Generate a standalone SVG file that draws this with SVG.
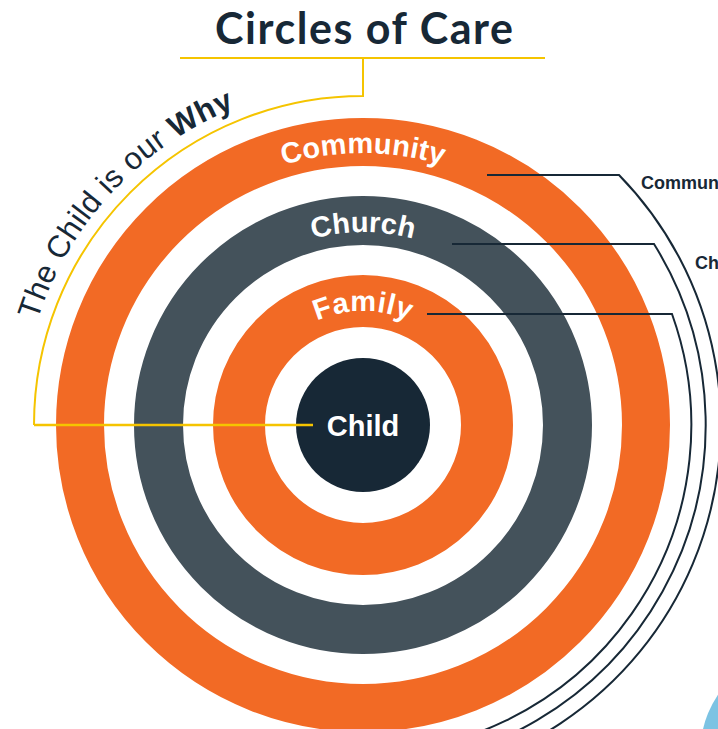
<svg xmlns="http://www.w3.org/2000/svg" xmlns:xlink="http://www.w3.org/1999/xlink" width="718" height="729" viewBox="0 0 718 729">
  <style>
    .ring { fill: none; }
    .ringlabel { font-family: "Liberation Sans", Arial, sans-serif; font-weight: 700; font-size: 29px; fill: #ffffff; }
    .title { font-family: Lato, "Liberation Sans", sans-serif; font-weight: 700; font-size: 43px; fill: #172836; }
    .tagline { font-family: "Liberation Sans", Arial, sans-serif; font-size: 31px; fill: #172836; letter-spacing: 0.4px; }
    .side { font-family: "Liberation Sans", Arial, sans-serif; font-weight: 700; font-size: 18px; fill: #172836; }
    .conn { fill: none; stroke: #172836; stroke-width: 2; }
    .gold { fill: none; stroke: #F5C400; }
  </style>
  <defs>
    <path id="arcCommunity" d="M 91 425 A 272 272 0 0 1 635 425"/>
    <path id="arcChurch" d="M 170 425 A 193 193 0 0 1 556 425"/>
    <path id="arcFamily" d="M 249 425 A 114 114 0 0 1 477 425"/>
    <path id="arcTag" d="M 21 425 A 342 342 0 0 1 705 425"/>
  </defs>
  <rect x="0" y="0" width="718" height="729" fill="#ffffff"/>

  <g id="blue-circle">
    <circle cx="802" cy="752" r="101.6" fill="#7CC3E3"/>
  </g>

  <g id="title">
    <text class="title" x="364" y="44" text-anchor="middle" textLength="298" lengthAdjust="spacing">Circles of Care</text>
  </g>

  <g id="ring-community">
    <circle class="ring" cx="363" cy="425" r="283" stroke="#F26A25" stroke-width="48"/>
    <text class="ringlabel" letter-spacing="0.2"><textPath xlink:href="#arcCommunity" href="#arcCommunity" startOffset="50%" text-anchor="middle">Community</textPath></text>
  </g>

  <g id="ring-church">
    <circle class="ring" cx="363" cy="425" r="204.5" stroke="#44525B" stroke-width="49"/>
    <text class="ringlabel"><textPath xlink:href="#arcChurch" href="#arcChurch" startOffset="50%" text-anchor="middle">Church</textPath></text>
  </g>

  <g id="ring-family">
    <circle class="ring" cx="363" cy="425" r="124" stroke="#F26A25" stroke-width="52"/>
    <text class="ringlabel" letter-spacing="0.5"><textPath xlink:href="#arcFamily" href="#arcFamily" startOffset="50%" text-anchor="middle">Family</textPath></text>
  </g>

  <g id="node-child">
    <circle cx="363" cy="425" r="67" fill="#172836"/>
    <text x="363" y="436" text-anchor="middle" font-family="'Liberation Sans', Arial, sans-serif" font-weight="700" font-size="29" fill="#ffffff">Child</text>
  </g>

  <g id="tagline">
    <text class="tagline"><textPath xlink:href="#arcTag" href="#arcTag" startOffset="256" text-anchor="middle">The Child is our <tspan font-weight="700">Why</tspan></textPath></text>
  </g>

  <g id="connectors">
    <path class="gold" stroke-width="2" d="M 180 58 H 545"/>
    <path class="gold" stroke-width="2" d="M 363 58 V 96 A 329 329 0 0 0 34 425"/>
    <path class="gold" stroke-width="2.4" d="M 34 425 H 313"/>
    <path class="conn" d="M 487 175 H 619 A 357.8 357.8 0 0 1 363 782.8"/>
    <path class="conn" d="M 452 244 H 654 A 342.7 342.7 0 0 1 363 767.7"/>
    <path class="conn" d="M 427 314 H 672 A 328.3 328.3 0 0 1 363 753.3"/>
  </g>

  <g id="side-labels">
    <text class="side" x="641" y="189">Community</text>
    <text class="side" x="695" y="269">Church</text>
  </g>
</svg>
